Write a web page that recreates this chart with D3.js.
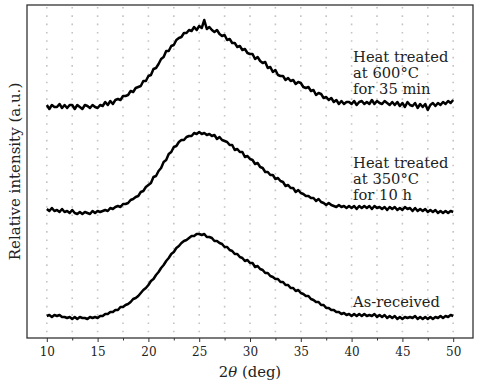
<!DOCTYPE html>
<html><head><meta charset="utf-8">
<script src="https://cdn.jsdelivr.net/npm/d3@7/dist/d3.min.js"></script>
<style>
html,body{margin:0;padding:0;background:#fff;}
svg{display:block;}
text{font-family:"DejaVu Serif",serif;fill:#222;}
</style></head>
<body>
<svg id="chart" width="480" height="383"></svg>
<script>
// 2θ sampling (deg), 0.25° step from 10 to 50
const angles = d3.range(0, 161).map(i => 10 + i * 0.25);

// Relative intensity (a.u.), offset stacked as displayed
const heat600 = [
233,229,233,231, 231,234,230,233, 230,233,233,229, 233,231,229,233, 232,230,233,231,
230,233,232,236, 233,237,234,238, 239,238,242,242, 243,247,246,250, 251,252,257,257,
262,263,269,270, 274,279,281,287, 287,292,293,298, 300,301,305,305, 308,307,311,308,
312,310,318,309, 311,308,306,308, 304,302,303,298, 299,295,295,291, 292,288,289,285,
284,284,279,281, 277,275,276,270, 271,266,268,263, 262,262,258,260, 257,258,254,256,
255,251,250,251, 247,248,243,245, 244,240,241,238, 240,236,238,234, 237,234,236,236,
234,237,233,236, 237,234,236,234, 238,234,237,235, 234,237,235,233, 236,233,236,232,
235,231,236,233, 232,235,230,234, 231,234,228,233, 235,232,235,233, 236,234,237,235,
238];

const heat350 = [
129,127,130,127, 128,126,129,126, 127,125,128,125, 124,126,124,126, 125,124,127,125,
127,126,127,128, 127,130,129,131, 132,131,134,134, 135,138,139,141, 142,146,147,151,
153,155,161,162, 167,170,176,178, 184,186,191,192, 196,198,198,201, 202,202,205,204,
206,204,205,203, 204,202,203,199, 201,198,197,196, 193,193,188,189, 186,186,181,182,
179,178,174,175, 171,170,166,166, 163,163,159,160, 157,156,152,153, 150,150,146,148,
145,144,142,142, 140,140,137,139, 136,135,133,135, 133,132,131,133, 131,132,130,132,
130,132,129,132, 130,132,130,132, 129,132,130,131, 129,131,128,131, 129,131,128,130,
128,131,129,130, 127,130,127,129, 127,129,126,128, 126,128,125,127, 125,127,125,127,
126];

const asReceived = [
22,23,21,23, 22,23,21,21, 20,21,19,21, 19,21,20,20, 19,21,20,21,
20,22,22,24, 24,26,26,28, 28,31,31,33, 34,36,39,40, 42,45,48,50,
53,57,59,63, 66,70,73,77, 80,84,86,90, 92,95,97,98, 100,102,102,104,
104,103,104,101, 101,100,97,97, 95,94,91,91, 88,87,84,84, 81,80,77,78,
75,75,71,72, 69,68,65,65, 62,61,59,59, 56,56,53,53, 50,50,47,48,
45,44,42,42, 39,38,36,36, 33,33,30,30, 28,28,26,26, 24,25,23,24,
22,24,22,24, 22,24,22,23, 22,24,21,23, 21,23,20,22, 20,22,19,21,
19,21,20,21, 20,22,19,21, 19,21,19,21, 19,21,20,22, 20,22,21,23,
22];

const seriesLabels = [
  ["Heat treated", "at 600°C", "for 35 min"],
  ["Heat treated", "at 350°C", "for 10 h"],
  ["As-received"]
];
const labelAnchors = [[40, 276], [40, 170], [40, 31]]; // [2θ, intensity] of first text baseline
const majorTicks = [10, 15, 20, 25, 30, 35, 40, 45, 50];
const gridTicks = [10, 12.5, 15, 17.5, 20, 22.5, 25, 27.5, 30, 32.5, 35, 37.5, 40, 42.5, 45, 47.5, 50];

const svg = d3.select("#chart");
const L = 27, R = 473, T = 5, B = 338;
const x = d3.scaleLinear().domain([8.05, 51.95]).range([L, R]);
const y = d3.scaleLinear().domain([0, 333]).range([B, T]);

// grid
svg.append("g").selectAll("line").data(gridTicks).join("line")
  .attr("x1", d => x(d)).attr("x2", d => x(d))
  .attr("y1", T + 2).attr("y2", B)
  .attr("stroke", "#c4c4c4").attr("stroke-width", 1.6)
  .attr("stroke-dasharray", "1.6,6.7");

// curves
const line = d3.line().x((d, i) => x(angles[i])).y(d => y(d));
[heat600, heat350, asReceived].forEach(s => {
  svg.append("path").datum(s).attr("d", line)
    .attr("fill", "none").attr("stroke", "#000").attr("stroke-width", 2.5)
    .attr("stroke-linejoin", "round");
});

// frame
svg.append("rect").attr("x", L).attr("y", T).attr("width", R - L).attr("height", B - T)
  .attr("fill", "none").attr("stroke", "#333").attr("stroke-width", 1.3);

// x axis
const xAxis = d3.axisBottom(x).tickValues(majorTicks).tickSize(4).tickPadding(5).tickFormat(d3.format("d"));
const gx = svg.append("g").attr("transform", `translate(0,${B})`).call(xAxis);
gx.select(".domain").remove();
gx.selectAll("line").attr("stroke", "#333");
gx.selectAll("text").attr("font-family", "DejaVu Serif").attr("font-size", 12).attr("fill", "#222");
const xMinor = d3.axisBottom(x).tickValues(gridTicks.filter(d => d % 5 !== 0)).tickSize(2.5).tickFormat("");
const gxm = svg.append("g").attr("transform", `translate(0,${B})`).call(xMinor);
gxm.select(".domain").remove();
gxm.selectAll("line").attr("stroke", "#333");

// x label
const xl = svg.append("text").attr("x", (L + R) / 2).attr("y", 377)
  .attr("text-anchor", "middle").attr("font-size", 14.8);
xl.append("tspan").text("2");
xl.append("tspan").attr("font-style", "italic").text("θ");
xl.append("tspan").text(" (deg)");

// y label
svg.append("text").attr("transform", `translate(19.5,${(T + B) / 2}) rotate(-90)`)
  .attr("text-anchor", "middle").attr("font-size", 15).text("Relative intensity (a.u.)");

// annotations
seriesLabels.forEach((lines, k) => {
  const t = svg.append("text").attr("font-size", 14.7);
  lines.forEach((s, j) => {
    t.append("tspan").attr("x", x(labelAnchors[k][0]) + 1.5)
      .attr("y", y(labelAnchors[k][1]) + j * 15.8).text(s);
  });
});
</script>
</body></html>
